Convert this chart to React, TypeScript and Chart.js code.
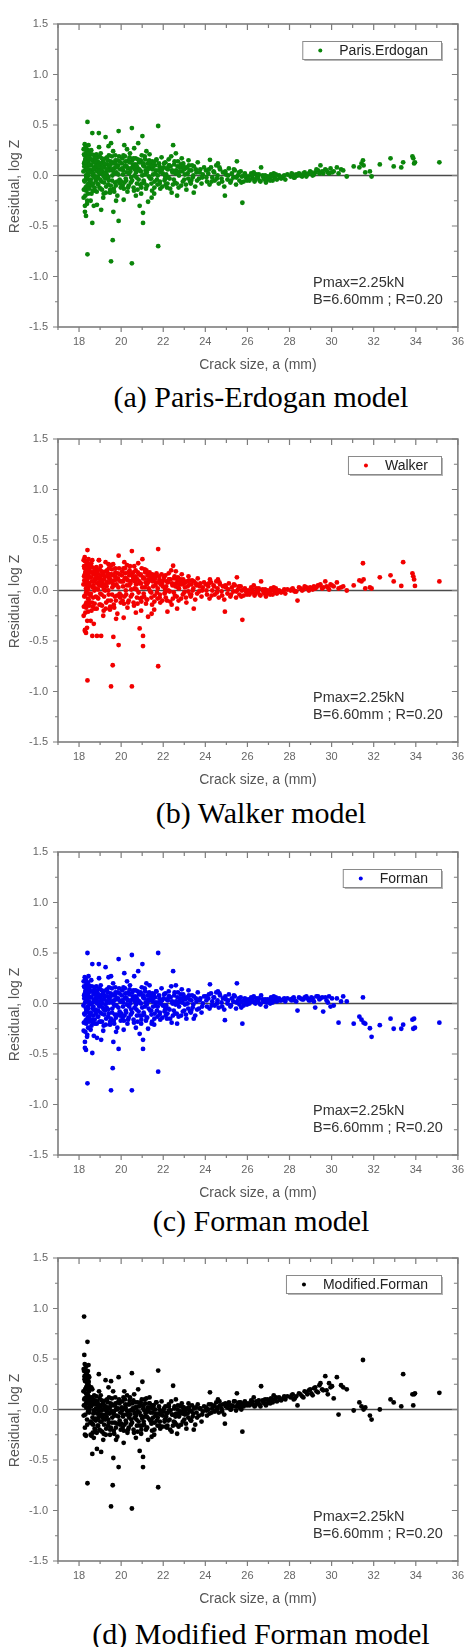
import React, { useEffect, useRef } from "react";
import { Chart, registerables } from "chart.js";
Chart.register(...registerables);

// Crack size a (mm), shared by the four residual plots
const crackSize = [
  18.22,18.24,18.25,18.26,18.27,18.28,18.29,18.30,18.31,18.32,18.33,18.34,18.35,18.36,18.37,18.38,18.39,18.40,18.40,18.41,18.42,18.43,18.44,18.45,18.46,18.47,18.48,18.22,18.25,18.28,18.31,18.34,18.37,18.43,18.46,18.49,
  18.63,18.94,19.26,19.52,19.88,18.63,19.52,19.60,19.63,19.76,19.88,18.70,18.85,19.05,18.55,18.58,18.60,18.62,18.66,18.68,18.72,18.75,18.78,18.80,18.83,18.87,18.90,18.93,18.97,19.00,19.03,19.07,19.10,19.13,19.17,19.20,19.24,19.28,19.31,19.35,19.38,19.42,19.45,19.48,19.55,19.58,19.62,19.66,19.70,19.73,19.78,19.82,19.85,19.90,19.93,19.96,18.95,19.40,19.15,18.77,
  20.15,20.51,20.62,20.81,21.01,21.76,20.12,20.51,20.88,21.04,21.04,21.28,21.76,20.03,20.07,20.10,20.18,20.22,20.26,20.30,20.34,20.38,20.42,20.46,20.55,20.59,20.65,20.69,20.73,20.77,20.85,20.90,20.94,20.98,21.07,21.10,21.14,21.18,21.22,21.26,21.31,21.35,21.40,21.44,21.48,21.52,21.57,21.61,21.65,21.70,21.80,21.84,21.88,21.92,21.96,20.28,20.70,21.20,21.45,20.95,
  22.47,22.02,22.06,22.10,22.14,22.18,22.22,22.26,22.30,22.35,22.40,22.44,22.52,22.56,22.61,22.66,22.70,22.75,22.80,22.85,22.90,22.95,23.00,23.05,23.10,23.16,23.22,23.28,23.34,23.40,23.46,23.52,23.58,23.64,23.70,23.76,23.82,23.88,23.94,22.38,22.88,23.45,22.60,23.20,22.20,
  24.22,25.50,24.93,25.76,24.03,24.08,24.14,24.20,24.27,24.33,24.39,24.45,24.52,24.58,24.64,24.70,24.77,24.84,24.90,24.98,25.05,25.12,25.19,25.26,25.33,25.40,25.46,25.55,25.62,25.68,25.74,25.82,25.88,25.95,24.60,
  26.65,26.03,26.10,26.18,26.26,26.34,26.42,26.50,26.58,26.72,26.80,26.88,26.96,27.04,27.12,27.20,27.30,27.40,27.50,27.60,27.70,27.80,27.90,26.30,27.25,
  28.05,28.15,28.25,28.38,28.45,28.60,28.72,28.85,28.98,29.10,29.22,29.35,29.47,29.60,29.70,29.82,29.95,30.10,30.25,30.33,30.55,30.72,
  31.05,31.32,31.42,31.49,31.52,31.60,31.82,31.90,32.29,32.80,32.95,33.31,33.40,33.84,33.88,33.92,33.96,35.12,
  18.21,18.23,18.24,18.26,18.27,18.29,18.30,18.32,18.33,18.35,18.36,18.38,18.39,18.41,18.42,18.44,18.45,18.47,18.48,18.50,
  18.52,18.54,18.57,18.59,18.61,18.64,18.67,18.69,18.71,18.74,18.76,18.79,18.81,18.84,18.86,18.89,18.91,18.96,18.98,19.01,19.04,19.06,19.09,19.12,19.16,19.19,19.22,19.25,19.29,19.33,19.36,19.39,19.43,19.47,19.50,19.54,19.57,19.61,19.65,19.68,19.72,19.75,19.80,19.84,19.95,
  20.01,20.05,20.09,20.13,20.17,20.20,20.24,20.32,20.36,20.40,20.44,20.48,20.53,20.57,20.61,20.67,20.71,20.75,20.79,20.83,20.87,20.92,20.96,21.00,21.05,21.09,21.12,21.16,21.24,21.29,21.33,21.38,21.42,21.47,21.50,21.55,21.59,21.63,21.68,21.73,21.78,21.82,21.86,21.90,21.98,
  22.04,22.08,22.12,22.16,22.24,22.28,22.33,22.42,22.50,22.54,22.58,22.64,22.68,22.73,22.78,22.83,22.93,22.98,23.03,23.08,23.13,23.19,23.25,23.31,23.37,23.43,23.55,23.61,23.73,23.85,
  24.05,24.17,24.30,24.42,24.55,24.67,24.80,24.95,25.08,25.22,25.36,25.48,25.60,25.71,25.85,25.98,26.07,26.22,26.38,26.46,26.54,26.62,26.76,26.84,26.92,27.08,27.16,27.35,27.55,27.75,
  28.10,28.20,28.32,28.52,28.66,28.80,28.92,29.04,29.16,29.28,29.42,29.55,29.76,29.88,30.02,30.45,
  18.30,18.34,18.38,18.42,18.46,18.51,18.56,18.61,18.65,18.70,18.73,18.78,18.82,18.88,18.92,18.99,19.02,19.08,19.11,19.18,19.21,19.27,19.32,19.37,19.41,19.46,19.51,19.56,19.63,19.67,19.71,19.77,19.81,19.87,19.92,19.98,20.04,20.11,20.16,20.21,20.27,20.33,20.39,20.45,20.52,20.58,20.64,20.72,20.78,20.86,20.93,20.99,21.06,21.13,21.21,21.27,21.36,21.43,21.51,21.58,21.66,21.74,21.83,21.94,22.09,22.27,22.46,22.69,22.97,23.33,
];

// Residual, log Z — Paris-Erdogan
const resParis = [
  0.26,0.12,-0.05,0.20,0.31,-0.36,0.05,0.15,-0.12,0.28,-0.40,0.08,0.22,-0.02,0.18,-0.28,0.10,0.53,-0.78,0.02,0.25,-0.18,0.14,0.30,-0.08,0.06,0.19,-0.22,0.09,-0.30,0.16,-0.15,0.24,0.00,0.11,-0.10,
  0.42,0.42,0.38,0.32,0.44,-0.47,-0.85,-0.64,-0.36,-0.25,-0.45,-0.30,-0.29,-0.34,-0.25,0.25,0.05,-0.10,0.15,0.02,0.20,-0.15,0.08,-0.05,0.12,0.18,-0.02,0.06,-0.12,0.10,0.22,-0.06,0.04,0.14,-0.18,0.08,-0.03,0.17,0.01,0.11,-0.09,0.20,0.05,-0.14,0.13,0.00,0.24,0.07,-0.07,0.15,0.03,-0.20,0.10,0.19,-0.04,0.06,0.28,0.29,-0.22,0.09,
  0.30,0.47,0.27,0.32,0.39,0.49,-0.24,-0.87,-0.30,-0.47,-0.37,-0.26,-0.70,0.12,-0.10,0.05,0.19,-0.03,0.09,-0.16,0.15,0.02,0.22,-0.07,0.11,-0.12,0.06,0.17,-0.02,0.08,0.13,-0.09,0.04,0.20,-0.05,0.09,0.16,-0.13,0.03,0.12,-0.01,0.21,0.07,-0.08,0.14,0.01,-0.18,0.10,0.05,-0.04,0.12,-0.06,0.03,0.18,-0.11,0.26,-0.20,0.24,-0.22,-0.18,
  0.30,0.08,-0.05,0.13,0.01,-0.12,0.06,0.16,-0.03,0.09,-0.17,0.03,0.11,-0.07,0.05,-0.20,0.14,0.00,0.08,-0.10,0.04,0.12,-0.04,0.07,-0.14,0.02,0.10,-0.06,0.05,-0.02,0.09,-0.11,0.03,0.13,-0.03,0.06,-0.08,0.01,0.08,0.19,0.17,-0.17,0.22,0.15,-0.08,
  0.155,0.14,-0.20,-0.27,0.05,-0.06,0.02,-0.09,0.08,-0.02,0.04,-0.05,0.10,0.00,-0.08,0.06,-0.03,0.03,-0.11,0.01,-0.04,0.07,-0.07,0.02,-0.02,0.05,-0.09,0.00,-0.05,0.04,-0.01,-0.06,0.02,-0.03,0.12,
  0.08,-0.01,-0.05,0.02,-0.03,-0.06,0.01,-0.02,-0.05,0.00,-0.04,-0.07,-0.01,-0.03,0.01,-0.05,-0.02,-0.04,0.00,-0.03,-0.01,-0.04,0.01,0.03,0.02,
  -0.01,0.01,-0.02,0.00,0.02,-0.01,0.03,0.01,0.04,0.00,0.03,0.05,0.10,0.02,0.06,0.03,0.07,0.04,0.08,0.02,0.05,-0.01,
  0.09,0.08,0.12,0.15,0.10,0.03,0.04,-0.01,0.11,0.17,0.09,0.08,0.13,0.19,0.17,0.12,0.13,0.13,
  0.04,-0.14,0.21,0.13,-0.06,0.27,-0.20,0.17,0.00,-0.11,0.23,0.07,-0.25,0.19,0.11,-0.04,0.16,0.22,-0.13,0.03,
  0.16,-0.06,0.10,-0.18,0.21,0.00,-0.08,0.13,0.06,-0.12,0.17,-0.01,0.09,-0.16,0.04,0.14,-0.09,0.02,0.19,-0.04,0.12,0.07,-0.14,0.01,0.16,-0.07,0.11,0.03,-0.11,0.18,0.05,-0.02,0.09,-0.17,0.14,0.06,-0.05,0.12,-0.13,0.02,0.20,-0.10,0.08,0.15,-0.08,
  -0.06,0.17,0.01,-0.13,0.09,0.14,-0.05,0.07,-0.10,0.18,0.04,-0.02,0.15,0.08,-0.15,0.11,0.03,-0.08,0.16,-0.04,0.06,0.13,-0.12,0.00,0.10,-0.07,0.19,0.05,-0.10,0.08,0.15,-0.03,0.11,-0.15,0.06,0.13,-0.06,0.02,0.16,-0.09,0.05,0.09,-0.13,0.07,0.02,
  0.12,0.00,-0.09,0.07,-0.02,0.10,-0.13,0.05,-0.04,0.14,0.02,-0.08,0.09,-0.12,0.04,0.11,-0.06,0.06,0.01,-0.09,0.08,-0.03,0.05,-0.08,0.10,0.00,0.06,-0.05,0.03,-0.02,
  -0.02,0.06,-0.06,0.03,-0.03,0.08,-0.06,0.04,0.00,-0.05,0.06,-0.02,0.03,-0.07,0.00,-0.05,-0.03,0.00,-0.04,-0.01,0.01,-0.06,-0.02,0.00,-0.04,-0.05,-0.01,0.01,-0.02,0.00,
  0.02,-0.02,0.01,0.00,0.02,-0.01,0.02,0.03,0.01,0.06,0.02,0.04,0.05,0.02,0.03,0.06,
  0.13,-0.03,0.07,-0.09,0.18,0.11,-0.04,0.16,-0.15,0.07,-0.02,0.14,0.21,-0.08,0.10,0.03,-0.13,0.17,0.08,-0.01,0.12,-0.17,0.06,0.15,-0.05,0.10,-0.10,0.19,0.04,-0.16,0.12,0.09,-0.06,0.01,0.14,-0.12,0.07,0.20,-0.07,0.10,0.03,-0.12,0.13,0.07,-0.05,0.17,0.00,0.10,-0.14,0.05,0.15,-0.08,0.12,0.01,-0.10,0.06,0.14,-0.03,0.09,-0.12,0.15,0.00,-0.08,0.06,-0.03,0.10,-0.09,0.02,0.09,-0.05,
];

// Residual, log Z — Walker
const resWalker = [
  0.30,0.14,-0.06,0.22,0.33,-0.40,0.06,0.17,-0.14,0.29,-0.42,0.09,0.25,-0.03,0.20,-0.37,0.12,0.40,-0.89,0.03,0.27,-0.21,0.16,0.31,-0.09,0.07,0.21,-0.25,0.10,-0.39,0.18,-0.17,0.26,0.01,0.13,-0.12,
  0.30,0.30,0.28,0.25,0.345,-0.45,-0.95,-0.74,-0.46,-0.28,-0.54,-0.33,-0.45,-0.45,-0.30,0.27,0.09,-0.12,0.18,0.05,0.22,-0.18,0.11,-0.06,0.15,0.20,0.01,0.08,-0.14,0.13,0.24,-0.04,0.07,0.17,-0.20,0.11,0.00,0.19,0.04,0.14,-0.10,0.22,0.08,-0.16,0.16,0.03,0.26,0.10,-0.06,0.18,0.06,-0.23,0.12,0.22,-0.03,0.09,0.30,0.26,-0.25,0.12,
  0.28,0.39,0.24,0.27,0.31,0.41,-0.27,-0.95,-0.375,-0.55,-0.45,-0.26,-0.75,0.15,-0.10,0.09,0.22,0.00,0.12,-0.17,0.18,0.05,0.24,-0.06,0.14,-0.12,0.09,0.20,0.01,0.11,0.16,-0.08,0.07,0.22,-0.03,0.12,0.18,-0.13,0.06,0.15,0.02,0.18,0.10,-0.07,0.16,0.04,-0.19,0.12,0.08,-0.02,0.14,-0.04,0.06,0.16,-0.10,0.25,-0.22,0.20,-0.23,-0.20,
  0.245,0.10,-0.03,0.15,0.04,-0.10,0.08,0.17,-0.01,0.11,-0.14,0.05,0.12,-0.05,0.07,-0.18,0.13,0.02,0.09,-0.08,0.06,0.11,-0.02,0.08,-0.12,0.04,0.10,-0.04,0.06,0.00,0.09,-0.09,0.05,0.12,-0.01,0.07,-0.06,0.03,0.08,0.20,0.16,-0.18,0.19,0.14,-0.21,
  0.11,0.13,-0.21,-0.29,0.06,-0.04,0.04,-0.08,0.08,0.00,0.05,-0.04,0.09,0.02,-0.07,0.06,-0.01,0.04,-0.09,0.03,-0.03,0.07,-0.06,0.03,-0.01,0.05,-0.07,0.01,-0.04,0.04,0.00,-0.05,0.02,-0.02,0.11,
  0.09,0.00,-0.04,0.03,-0.02,-0.05,0.02,-0.01,-0.04,0.01,-0.03,-0.06,0.00,-0.02,0.02,-0.04,-0.01,-0.03,0.00,-0.02,-0.01,-0.03,0.01,0.05,0.03,
  0.00,0.02,-0.01,-0.10,0.03,0.00,0.04,0.02,0.03,0.01,0.02,0.05,0.06,0.03,0.09,0.03,0.06,0.04,0.08,0.02,0.04,0.00,
  0.05,0.10,0.09,0.27,0.11,0.02,0.03,0.02,0.13,0.15,0.09,0.045,0.28,0.17,0.14,0.11,0.045,0.09,
  0.06,-0.16,0.24,0.15,-0.05,0.29,-0.22,0.19,0.02,-0.12,0.25,0.09,-0.30,0.21,0.13,-0.03,0.18,0.24,-0.15,0.05,
  0.18,-0.05,0.13,-0.20,0.23,0.03,-0.07,0.16,0.09,-0.13,0.19,0.02,0.12,-0.18,0.07,0.17,-0.08,0.05,0.21,-0.03,0.15,0.10,-0.15,0.04,0.18,-0.06,0.14,0.06,-0.12,0.20,0.08,0.00,0.12,-0.19,0.16,0.09,-0.04,0.15,-0.14,0.05,0.22,-0.10,0.11,0.17,-0.07,
  -0.05,0.19,0.04,-0.13,0.12,0.17,-0.04,0.10,-0.10,0.20,0.07,0.01,0.17,0.11,-0.15,0.14,0.06,-0.07,0.18,-0.02,0.09,0.15,-0.11,0.03,0.12,-0.06,0.21,0.08,-0.09,0.11,0.17,-0.01,0.13,-0.14,0.09,0.15,-0.05,0.05,0.17,-0.08,0.08,0.11,-0.12,0.09,0.04,
  0.13,0.02,-0.07,0.09,0.00,0.11,-0.11,0.07,-0.02,0.14,0.04,-0.06,0.10,-0.10,0.06,0.11,-0.04,0.07,0.03,-0.07,0.09,-0.01,0.06,-0.06,0.10,0.02,0.07,-0.03,0.04,0.00,
  0.00,0.07,-0.05,0.04,-0.02,0.08,-0.05,0.05,0.01,-0.04,0.06,-0.01,0.04,-0.06,0.01,-0.04,-0.02,0.01,-0.03,0.00,0.02,-0.05,-0.01,0.01,-0.03,-0.04,0.00,0.02,-0.01,0.01,
  0.01,0.00,-0.01,0.02,0.01,0.03,0.00,0.02,0.04,0.03,0.05,0.02,0.04,0.01,0.05,0.03,
  0.15,-0.02,0.09,-0.08,0.20,0.13,-0.03,0.18,-0.16,0.09,0.00,0.16,0.23,-0.07,0.12,0.05,-0.14,0.19,0.10,0.01,0.14,-0.18,0.08,0.17,-0.04,0.12,-0.10,0.21,0.06,-0.17,0.14,0.11,-0.05,0.03,0.16,-0.12,0.09,0.22,-0.06,0.12,0.05,-0.12,0.15,0.09,-0.04,0.18,0.02,0.12,-0.13,0.07,0.16,-0.07,0.13,0.03,-0.09,0.08,0.15,-0.02,0.10,-0.11,0.15,0.02,-0.07,0.07,-0.02,0.11,-0.08,0.03,0.09,-0.04,
];

// Residual, log Z — Forman
const resForman = [
  0.22,0.08,-0.10,0.16,0.26,-0.44,0.01,0.11,-0.17,0.24,-0.46,0.04,0.18,-0.07,0.14,-0.33,0.06,0.50,-0.79,-0.03,0.21,-0.24,0.10,0.27,-0.13,0.02,0.15,-0.27,0.05,-0.38,0.12,-0.20,0.20,-0.05,0.07,-0.15,
  0.39,0.39,0.36,0.27,0.44,-0.49,-0.86,-0.64,-0.38,-0.28,-0.45,-0.32,-0.34,-0.36,-0.26,0.23,0.00,-0.16,0.12,-0.03,0.16,-0.20,0.03,-0.10,0.08,0.13,-0.07,0.02,-0.18,0.06,0.18,-0.10,0.00,0.10,-0.22,0.04,-0.07,0.13,-0.04,0.07,-0.13,0.16,0.01,-0.18,0.09,-0.05,0.20,0.03,-0.11,0.11,-0.02,-0.24,0.05,0.15,-0.08,0.02,0.25,0.26,-0.27,0.05,
  0.30,0.48,0.27,0.32,0.39,0.50,-0.26,-0.86,-0.30,-0.45,-0.36,-0.25,-0.675,0.08,-0.14,0.01,0.15,-0.07,0.05,-0.20,0.11,-0.03,0.18,-0.11,0.07,-0.16,0.02,0.13,-0.06,0.04,0.09,-0.12,0.00,0.16,-0.09,0.05,0.12,-0.17,-0.01,0.08,-0.05,0.18,0.03,-0.11,0.10,-0.03,-0.21,0.06,0.01,-0.07,0.08,-0.09,0.00,0.15,-0.14,0.22,-0.24,0.20,-0.20,-0.20,
  0.32,0.05,-0.08,0.10,-0.02,-0.15,0.03,0.12,-0.06,0.06,-0.19,0.00,0.08,-0.10,0.02,-0.20,0.11,-0.03,0.05,-0.12,0.01,0.09,-0.07,0.04,-0.15,0.00,0.08,-0.08,0.03,-0.04,0.07,-0.12,0.02,0.11,-0.05,0.05,-0.09,0.00,0.07,0.17,0.14,-0.15,0.18,0.13,-0.10,
  0.19,0.20,-0.165,-0.20,0.07,-0.03,0.05,-0.05,0.10,0.02,0.06,-0.02,0.11,0.03,-0.04,0.08,0.01,0.05,-0.06,0.04,0.00,0.09,-0.03,0.05,0.02,0.07,-0.05,0.03,-0.01,0.06,0.02,-0.02,0.05,0.01,0.12,
  0.08,0.04,0.00,0.06,0.02,0.01,0.05,0.03,0.00,0.04,0.02,-0.03,0.04,0.03,0.06,0.01,0.03,0.02,0.05,0.03,0.04,0.02,0.05,0.07,0.07,
  0.04,0.05,0.03,-0.07,0.06,0.04,0.06,0.05,0.03,0.05,-0.04,0.07,0.05,-0.08,0.06,0.01,-0.03,-0.02,0.05,-0.19,0.07,0.02,
  -0.20,-0.13,-0.16,0.06,-0.19,-0.20,-0.245,-0.33,-0.215,-0.15,-0.25,-0.25,-0.21,-0.16,-0.25,-0.15,-0.24,-0.19,
  -0.02,-0.19,0.17,0.09,-0.11,0.23,-0.28,0.13,-0.05,-0.16,0.19,0.03,-0.31,0.15,0.07,-0.09,0.12,0.18,-0.18,-0.01,
  0.12,-0.11,0.06,-0.22,0.17,-0.05,-0.12,0.09,0.02,-0.16,0.13,-0.06,0.05,-0.20,0.00,0.10,-0.13,-0.03,0.15,-0.09,0.08,0.03,-0.18,-0.04,0.12,-0.11,0.07,-0.01,-0.15,0.14,0.01,-0.06,0.05,-0.21,0.10,0.02,-0.09,0.08,-0.17,-0.02,0.16,-0.14,0.04,0.11,-0.12,
  -0.10,0.13,-0.03,-0.17,0.05,0.10,-0.09,0.03,-0.14,0.14,0.00,-0.06,0.11,0.04,-0.19,0.07,-0.01,-0.12,0.12,-0.08,0.02,0.09,-0.16,-0.04,0.06,-0.11,0.15,0.01,-0.14,0.04,0.11,-0.07,0.07,-0.18,0.02,0.09,-0.10,-0.02,0.12,-0.13,0.01,0.05,-0.16,0.03,-0.02,
  0.09,-0.03,-0.12,0.04,-0.05,0.07,-0.15,0.02,-0.07,0.11,-0.01,-0.10,0.06,-0.13,0.02,0.09,-0.08,0.04,-0.01,-0.11,0.06,-0.05,0.04,-0.09,0.08,-0.01,0.05,-0.06,0.03,-0.03,
  0.03,0.09,-0.02,0.06,0.00,0.10,-0.03,0.07,0.03,-0.02,0.08,0.01,0.05,-0.04,0.03,-0.01,0.02,0.04,0.00,0.03,0.05,-0.01,0.02,0.04,0.01,0.00,0.04,0.06,0.03,0.05,
  0.03,0.06,0.02,0.05,0.04,0.07,0.03,0.06,0.02,0.07,0.04,0.06,0.03,0.07,0.05,0.02,
  0.09,-0.08,0.03,-0.14,0.14,0.06,-0.09,0.12,-0.19,0.03,-0.07,0.10,0.17,-0.13,0.06,-0.02,-0.18,0.13,0.04,-0.06,0.08,-0.21,0.02,0.11,-0.10,0.06,-0.15,0.15,0.00,-0.20,0.08,0.05,-0.11,-0.04,0.10,-0.17,0.03,0.16,-0.12,0.06,-0.01,-0.16,0.09,0.03,-0.09,0.13,-0.04,0.06,-0.18,0.01,0.11,-0.12,0.08,-0.03,-0.14,0.02,0.10,-0.07,0.05,-0.15,0.12,-0.03,-0.11,0.03,-0.06,0.07,-0.12,0.00,0.07,-0.07,
];

// Residual, log Z — Modified Forman
const resModForman = [
  0.40,0.92,0.10,0.33,0.45,-0.18,0.20,0.28,0.05,0.42,-0.26,0.22,0.36,0.12,0.30,-0.10,0.24,0.67,-0.73,0.15,0.38,-0.02,0.27,0.44,0.08,0.18,0.32,-0.06,0.54,-0.25,0.29,0.02,0.21,0.14,0.24,0.00,
  0.20,0.35,0.29,0.28,0.32,-0.44,-0.96,-0.75,-0.48,-0.30,-0.57,-0.28,-0.39,-0.42,-0.25,0.22,0.06,-0.14,0.10,-0.04,0.14,-0.22,0.00,-0.11,0.05,0.08,-0.09,-0.02,-0.20,0.03,0.14,-0.12,-0.05,0.06,-0.24,0.00,-0.10,0.09,-0.07,0.02,-0.16,0.12,-0.04,-0.20,0.05,-0.08,0.18,-0.02,-0.13,0.06,-0.06,-0.27,0.01,0.10,-0.11,-0.03,0.18,0.22,-0.30,-0.20,
  0.18,0.36,0.15,0.20,0.275,0.385,-0.33,-0.98,-0.41,-0.57,-0.47,-0.30,-0.77,0.02,-0.18,-0.05,0.10,-0.11,-0.01,-0.23,0.05,-0.08,0.12,-0.15,0.01,-0.20,-0.04,0.07,-0.10,-0.02,0.03,-0.16,-0.06,0.10,-0.12,-0.01,0.06,-0.20,-0.07,0.02,-0.09,0.12,-0.03,-0.14,0.04,-0.08,-0.25,0.00,-0.04,-0.11,0.03,-0.12,-0.05,0.08,-0.17,0.14,-0.28,0.11,-0.27,-0.24,
  0.235,-0.02,-0.12,0.03,-0.07,-0.18,-0.03,0.05,-0.10,-0.01,-0.22,-0.05,0.01,-0.13,-0.04,-0.24,0.04,-0.07,-0.02,-0.15,-0.04,0.02,-0.10,-0.02,-0.19,-0.04,0.02,-0.10,-0.02,-0.07,0.01,-0.15,-0.03,0.05,-0.06,0.01,-0.12,-0.02,0.03,0.08,0.06,-0.20,0.10,0.06,-0.16,
  0.17,0.16,-0.14,-0.22,0.02,-0.06,0.00,-0.04,0.05,0.01,0.03,-0.02,0.07,0.02,-0.03,0.04,0.01,0.05,-0.05,0.03,0.02,0.07,0.00,0.04,0.03,0.08,-0.01,0.05,0.02,0.07,0.04,0.03,0.08,0.05,0.10,
  0.23,0.06,0.04,0.09,0.05,0.03,0.08,0.07,0.05,0.09,0.06,0.04,0.10,0.08,0.11,0.07,0.10,0.08,0.12,0.09,0.11,0.10,0.13,0.12,0.14,
  0.12,0.15,0.11,0.04,0.16,0.13,0.18,0.15,0.20,0.14,0.22,0.17,0.26,0.19,0.33,0.15,0.22,0.11,0.32,-0.05,0.22,0.20,
  -0.01,0.07,0.03,0.49,0.00,0.02,-0.06,-0.10,0.00,0.10,0.07,0.03,0.35,0.15,0.04,0.15,0.16,0.165,
  0.18,0.04,0.38,0.30,0.11,0.40,-0.05,0.34,0.16,0.07,0.36,0.23,-0.15,0.26,0.21,0.10,0.28,0.19,-0.03,0.12,
  0.08,-0.13,0.03,-0.26,0.12,-0.08,-0.15,0.05,-0.02,-0.19,0.09,-0.09,0.01,-0.23,-0.04,0.06,-0.16,-0.07,0.11,-0.12,0.04,-0.01,-0.22,-0.08,0.08,-0.15,0.03,-0.05,-0.19,0.10,-0.03,-0.10,0.01,-0.25,0.06,-0.02,-0.13,0.04,-0.21,-0.06,0.12,-0.18,0.00,0.07,-0.15,
  -0.14,0.08,-0.07,-0.21,0.01,0.05,-0.13,-0.02,-0.18,0.09,-0.05,-0.10,0.06,-0.01,-0.23,0.02,-0.06,-0.16,0.07,-0.12,-0.03,0.04,-0.20,-0.09,0.01,-0.15,0.10,-0.04,-0.18,-0.01,0.06,-0.11,0.02,-0.21,-0.03,0.04,-0.13,-0.06,0.07,-0.16,-0.04,0.00,-0.19,-0.02,-0.06,
  0.01,-0.10,-0.17,-0.04,-0.11,-0.01,-0.20,-0.05,-0.12,0.03,-0.07,-0.15,0.00,-0.17,-0.04,0.03,-0.12,-0.01,-0.05,-0.14,0.01,-0.08,-0.01,-0.11,0.04,-0.04,0.02,-0.08,0.01,-0.05,
  -0.01,0.05,-0.03,0.04,0.00,0.08,-0.02,0.06,0.04,0.00,0.08,0.03,0.07,0.00,0.06,0.04,0.05,0.08,0.04,0.06,0.09,0.03,0.07,0.10,0.06,0.06,0.09,0.12,0.10,0.13,
  0.14,0.10,0.13,0.15,0.12,0.17,0.19,0.16,0.21,0.18,0.24,0.20,0.19,0.26,0.23,0.24,
  0.28,0.12,0.22,0.06,0.33,0.03,-0.12,0.08,-0.23,-0.01,-0.10,0.06,0.13,-0.16,0.02,-0.05,-0.21,0.09,0.00,-0.09,0.04,-0.25,-0.02,0.07,-0.13,0.02,-0.18,0.11,-0.04,-0.24,0.04,0.01,-0.14,-0.07,0.06,-0.20,-0.01,0.12,-0.15,0.02,-0.05,-0.20,0.05,-0.01,-0.13,0.09,-0.08,0.02,-0.22,-0.03,0.07,-0.16,0.04,-0.07,-0.18,-0.02,0.06,-0.11,0.01,-0.20,0.07,-0.08,-0.16,-0.02,-0.10,0.03,-0.16,-0.05,0.02,-0.11,
];

const xTicks = [18, 20, 22, 24, 26, 28, 30, 32, 34, 36];
const yTicks = [-1.5, -1.0, -0.5, 0.0, 0.5, 1.0, 1.5];
const notes = ["Pmax=2.25kN", "B=6.60mm ; R=0.20"];
const xTitle = "Crack size, a (mm)";
const yTitle = "Residual, log Z";

const panels = [
  { label: "Paris.Erdogan", color: "#0a850a", values: resParis, caption: "(a) Paris-Erdogan model", top: 0, captionY: 397 },
  { label: "Walker", color: "#f20000", values: resWalker, caption: "(b) Walker model", top: 415, captionY: 813 },
  { label: "Forman", color: "#0000f0", values: resForman, caption: "(c) Forman model", top: 828, captionY: 1221 },
  { label: "Modified.Forman", color: "#000000", values: resModForman, caption: "(d) Modified Forman model", top: 1234, captionY: 1634 },
];

const SANS = '"Liberation Sans", Arial, sans-serif';

const originStyle = {
  id: "originStyle",
  beforeDatasetsDraw(chart: any) {
    const { ctx, chartArea: a, scales } = chart;
    const y0 = scales.y.getPixelForValue(0);
    ctx.save();
    ctx.strokeStyle = "#4a4a4a";
    ctx.lineWidth = 1.5;
    ctx.beginPath();
    ctx.moveTo(a.left, y0);
    ctx.lineTo(a.right, y0);
    ctx.stroke();
    ctx.restore();
  },
  afterDraw(chart: any, _args: any, opts: any) {
    const { ctx, chartArea: a, scales } = chart;
    const xs = scales.x, ys = scales.y;
    ctx.save();
    ctx.strokeStyle = "#7d7d7d";
    ctx.lineWidth = 1.6;
    ctx.strokeRect(a.left, a.top, a.right - a.left, a.bottom - a.top);
    ctx.lineWidth = 1.2;
    ctx.beginPath();
    for (let v = 17; v <= 36; v++) {
      const px = xs.getPixelForValue(v);
      const len = v % 2 === 0 ? 5 : 3;
      ctx.moveTo(px, a.bottom); ctx.lineTo(px, a.bottom + len);
      ctx.moveTo(px, a.top); ctx.lineTo(px, a.top + len + 1);
    }
    for (let k = -6; k <= 6; k++) {
      const v = k * 0.25;
      const py = ys.getPixelForValue(v);
      const len = k % 2 === 0 ? 5 : 3;
      ctx.moveTo(a.left, py); ctx.lineTo(a.left - len, py);
      ctx.moveTo(a.right, py); ctx.lineTo(a.right - len - 1, py);
    }
    ctx.stroke();
    ctx.fillStyle = "#555";
    ctx.font = `14px ${SANS}`;
    ctx.textAlign = "center";
    ctx.textBaseline = "middle";
    ctx.fillText(xTitle, (a.left + a.right) / 2, a.bottom + 38);
    ctx.save();
    ctx.translate(15, (a.top + a.bottom) / 2 + 11);
    ctx.rotate(-Math.PI / 2);
    ctx.fillText(yTitle, 0, 0);
    ctx.restore();
    ctx.fillStyle = "#333";
    ctx.font = `14.5px ${SANS}`;
    ctx.textAlign = "left";
    ctx.fillText(notes[0], 313, a.top + 259);
    ctx.fillText(notes[1], 313, a.top + 276);
    ctx.font = `14px ${SANS}`;
    const tw = ctx.measureText(opts.label).width;
    const bw = tw + 50;
    const bl = 441 - bw;
    const bt = a.top + 17;
    ctx.fillStyle = "#b5b5b5";
    ctx.fillRect(bl + 2, bt + 2, bw, 18);
    ctx.fillStyle = "#fff";
    ctx.fillRect(bl, bt, bw, 18);
    ctx.strokeStyle = "#8a8a8a";
    ctx.lineWidth = 1;
    ctx.strokeRect(bl + 0.5, bt + 0.5, bw, 18);
    ctx.fillStyle = opts.color;
    ctx.beginPath();
    ctx.arc(bl + 18, bt + 9.5, 2, 0, Math.PI * 2);
    ctx.fill();
    ctx.fillStyle = "#222";
    ctx.fillText(opts.label, bl + 37, bt + 10);
    ctx.restore();
  },
};

function Panel({ cfg }: { cfg: any }) {
  const ref = useRef<HTMLCanvasElement>(null);
  useEffect(() => {
    if (!ref.current) return;
    const chart = new Chart(ref.current, {
      type: "scatter",
      data: {
        datasets: [
          {
            label: cfg.label,
            data: crackSize.map((x, i) => ({ x, y: cfg.values[i] })),
            backgroundColor: cfg.color,
            borderWidth: 0,
            pointRadius: 2.4,
            pointHoverRadius: 2.4,
          },
        ],
      },
      options: {
        animation: false,
        responsive: false,
        maintainAspectRatio: false,
        events: [],
        layout: { padding: { top: 24, right: 9, left: 0, bottom: 0 } },
        plugins: {
          legend: { display: false },
          tooltip: { enabled: false },
          originStyle: { label: cfg.label, color: cfg.color },
        } as any,
        scales: {
          x: {
            type: "linear",
            min: 17,
            max: 36,
            grid: { display: false, drawTicks: false },
            border: { display: false },
            afterBuildTicks: (s: any) => { s.ticks = xTicks.map((v) => ({ value: v })); },
            afterFit: (s: any) => { s.height = 48; },
            ticks: { color: "#666", font: { family: SANS, size: 11 }, padding: 8, maxRotation: 0, autoSkip: false },
          },
          y: {
            type: "linear",
            min: -1.5,
            max: 1.5,
            grid: { display: false, drawTicks: false },
            border: { display: false },
            afterBuildTicks: (s: any) => { s.ticks = yTicks.map((v) => ({ value: v })); },
            afterFit: (s: any) => { s.width = 58; },
            ticks: {
              color: "#666",
              font: { family: SANS, size: 11 },
              padding: 10,
              autoSkip: false,
              callback: (v: any) => Number(v).toFixed(1),
            },
          },
        },
      },
      plugins: [originStyle],
    });
    return () => chart.destroy();
  }, []);
  return (
    <>
      <canvas
        ref={ref}
        width={472}
        height={375}
        style={{ position: "absolute", left: 0, top: cfg.top, width: 472, height: 375, display: "block" }}
      />
      <div
        style={{
          position: "absolute",
          left: 50,
          width: 422,
          top: cfg.captionY - 18,
          height: 36,
          lineHeight: "36px",
          textAlign: "center",
          fontFamily: '"Liberation Serif", "Times New Roman", serif',
          fontSize: 30,
          color: "#000",
          whiteSpace: "nowrap",
        }}
      >
        {cfg.caption}
      </div>
    </>
  );
}

export default function App() {
  return (
    <div style={{ position: "absolute", left: 0, top: 0, width: 472, height: 1647, background: "#fff", overflow: "hidden" }}>
      {panels.map((p) => (
        <Panel key={p.label} cfg={p} />
      ))}
    </div>
  );
}
